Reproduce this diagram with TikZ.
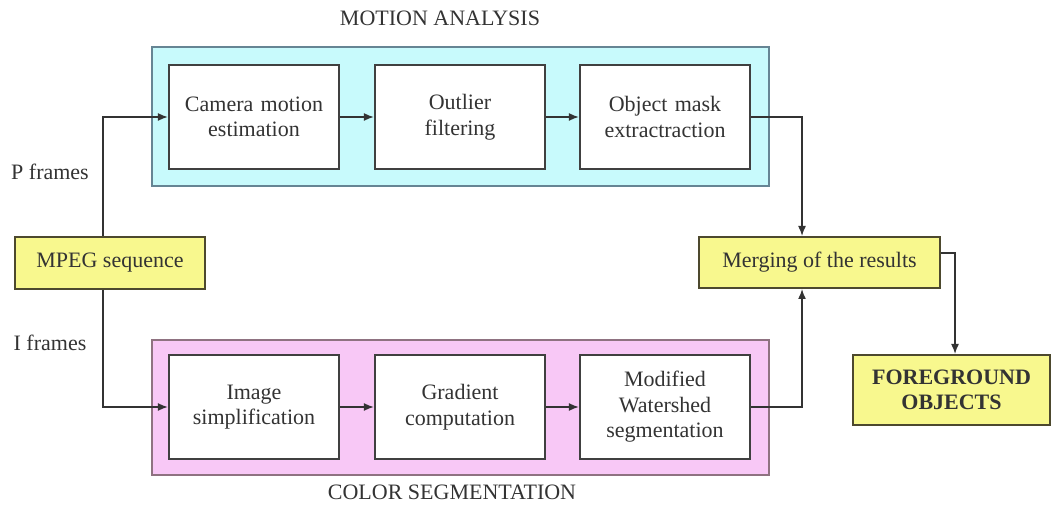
\documentclass[tikz,border=0pt]{standalone}
\usepackage{fontspec}
\setmainfont{Liberation Serif}
\usepackage{xcolor}
\usetikzlibrary{arrows.meta,positioning}
\definecolor{panelcyan}{HTML}{C8FAFC}
\definecolor{panelpink}{HTML}{F8C8F6}
\definecolor{noteyellow}{HTML}{F8F88E}
\tikzset{
  panel/.style={rectangle, fill=#1, line width=1.2pt, minimum width=308.5pt, inner sep=0pt},
  stage/.style={rectangle, draw=black!75, fill=white, line width=1.1pt, align=center,
                minimum width=85pt, minimum height=52pt, text width=80pt, inner sep=0pt},
  note/.style={rectangle, draw=black!60!olive, fill=noteyellow, line width=1pt, align=center,
               inner sep=0pt},
  arr/.style={-{Latex[length=5pt,width=4pt]}, line width=0.75pt, black!80},
}
\begin{document}
\begin{tikzpicture}[x=0.5pt, y=0.5pt, font=\fontsize{11}{12.8}\selectfont, text=black!80]
\useasboundingbox (0,0) rectangle (1052,508);
% motion analysis
\node[panel=panelcyan, draw=black!45!cyan!60!gray, minimum height=69.5pt] (motion) at (460.5,391.5) {};
\node (motiontitle) at (440,490) {MOTION ANALYSIS};
\node[stage] (cam) at (254,391) {Camera motion\\estimation};
\node[stage] (outl) at (460,391) {Outlier\\filtering};
\node[stage] (mask) at (665,391) {Object mask\\extractraction};
% color segmentation
\node[panel=panelpink, draw=black!50!magenta!40!gray, minimum height=67.5pt] (color) at (460.5,100.5) {};
\node (colortitle) at (452,16) {COLOR SEGMENTATION};
\node[stage] (simp) at (254,101) {Image\\simplification};
\node[stage] (grad) at (460,101) {Gradient\\computation};
\node[stage] (wshed) at (665,101) {Modified\\Watershed\\segmentation};
% input and output
\node[note, minimum width=95pt, minimum height=26pt] (mpeg) at (110,245) {MPEG sequence};
\node (pfr) at (50,336) {P frames};
\node (ifr) at (50,165) {I frames};
\node[note, minimum width=120.5pt, minimum height=25.5pt] (merge) at (819.5,245.5) {Merging of the results};
\node[note, minimum width=98.5pt, minimum height=35pt, font=\fontsize{11}{12.8}\selectfont\bfseries]
  (fg) at (951.5,118) {FOREGROUND\\OBJECTS};
% connectors
\draw[arr] ([xshift=-3.5pt]mpeg.north) |- (cam.west);
\draw[arr] ([xshift=-3.5pt]mpeg.south) |- (simp.west);
\draw[arr] (cam) -- (outl);
\draw[arr] (outl) -- (mask);
\draw[arr] (simp) -- (grad);
\draw[arr] (grad) -- (wshed);
\draw[arr] (mask.east) -| ([xshift=-8.75pt]merge.north);
\draw[arr] (wshed.east) -| ([xshift=-8.75pt]merge.south);
\draw[arr] ([yshift=4.75pt]merge.east) -| ([xshift=1.75pt]fg.north);
\end{tikzpicture}
\end{document}
